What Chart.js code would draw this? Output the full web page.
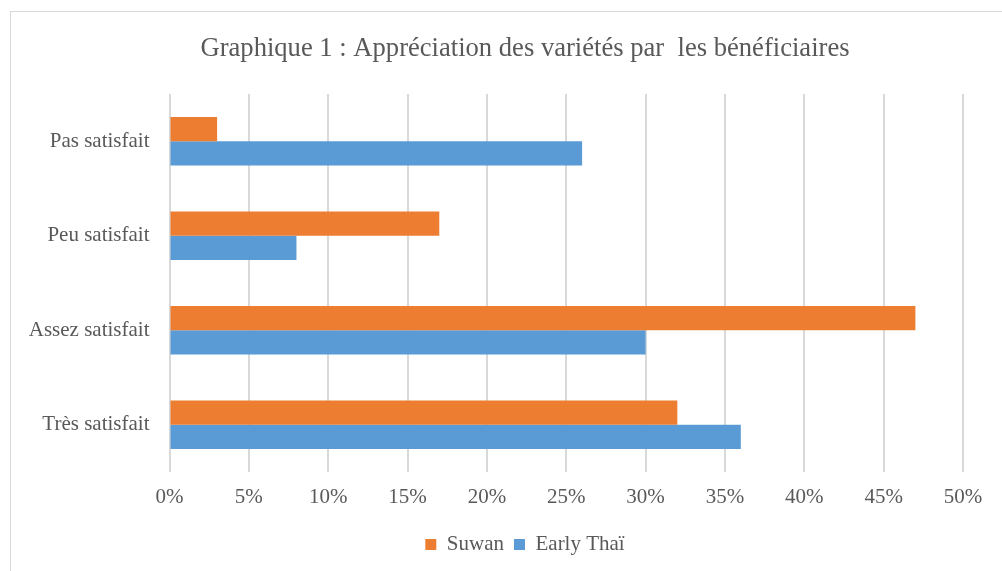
<!DOCTYPE html>
<html>
<head>
<meta charset="utf-8">
<script src="https://cdn.jsdelivr.net/npm/chart.js@4.4.0/dist/chart.umd.min.js"></script>
<style>
  html, body { margin: 0; padding: 0; background: #fff; overflow: hidden; }
  #frame { position: absolute; left: 10px; top: 11px; width: 1028px; height: 580px; border: 1px solid #d9d9d9; }
  #chart { display: block; }
</style>
</head>
<body>
<div id="frame"><canvas id="chart" width="1028" height="560"></canvas></div>
<script>
var categories = ['Pas satisfait', 'Peu satisfait', 'Assez satisfait', 'Très satisfait'];
var suwan = [3, 17, 47, 32];
var earlyThai = [26, 8, 30, 36];
var seriesNames = ['Suwan', 'Early Thaï'];
var tickStep = 5;
var tickMax = 50;

var textColor = '#595959';
var serif = "'Liberation Serif', 'Times New Roman', serif";

var ctx = document.getElementById('chart').getContext('2d');
var barChart = new Chart(ctx, {
    type: 'bar',
    data: {
        labels: categories,
        datasets: [{
            label: seriesNames[0],
            data: suwan,
            backgroundColor: '#ED7D31',
            borderWidth: 0
        }, {
            label: seriesNames[1],
            data: earlyThai,
            backgroundColor: '#5B9BD5',
            borderWidth: 0
        }]
    },
    options: {
        indexAxis: 'y',
        responsive: false,
        animation: false,
        categoryPercentage: 0.512,
        barPercentage: 1,
        layout: { padding: { left: 0, right: 0, top: 0, bottom: 7 } },
        scales: {
            x: {
                min: 0,
                max: tickMax,
                border: { display: false },
                grid: { color: '#d9d9d9', lineWidth: 2, drawTicks: false },
                ticks: {
                    stepSize: tickStep,
                    padding: 13,
                    color: textColor,
                    font: { family: serif, size: 21 },
                    callback: function (v) { return v + '%'; }
                },
                afterFit: function (scale) {
                    scale.height = 52;
                    scale.paddingRight = 76;
                }
            },
            y: {
                border: { display: false },
                grid: { display: false, drawTicks: false },
                ticks: {
                    padding: 20,
                    color: textColor,
                    font: { family: serif, size: 21 }
                },
                afterFit: function (scale) { scale.width = 158.5; }
            }
        },
        plugins: {
            title: {
                display: true,
                text: 'Graphique 1 : Appréciation des variétés par  les bénéficiaires',
                color: textColor,
                font: { family: serif, size: 26.6, weight: 'normal' },
                padding: { top: 21, bottom: 29 }
            },
            legend: {
                position: 'bottom',
                labels: {
                    color: textColor,
                    boxWidth: 11,
                    boxHeight: 11,
                    padding: 10,
                    font: { family: serif, size: 21 }
                }
            },
            tooltip: { enabled: false }
        }
    }
});
</script>
</body>
</html>
